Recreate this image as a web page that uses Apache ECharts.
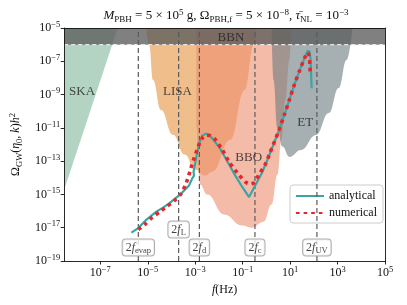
<!DOCTYPE html>
<html><head><meta charset="utf-8">
<script src="https://cdn.jsdelivr.net/npm/echarts@6/dist/echarts.min.js"></script>
<style>html,body{margin:0;padding:0;background:#fff}#c{width:407px;height:305px}</style>
</head><body><div id="c"></div>
<script>
// ---------- data ----------
const xTicks = [1e-7, 1e-5, 1e-3, 1e-1, 1e1, 1e3, 1e5];
const yTicks = [1e-19, 1e-17, 1e-15, 1e-13, 1e-11, 1e-9, 1e-7, 1e-5];
const xRange = [3e-9, 1e5];
const yRange = [1e-19, 1e-5];
const bbnLimit = 1e-6;

const skaCurve = [[3.0e-9, 1.9e-15], [5.4e-7, 1e-5]];
const lisaCurve = [[8.5e-6, 1e-5], [1.15e-5, 9.5e-7], [1.66e-5, 7.6e-9], [3.6e-5, 1.2e-10], [1.15e-4, 3.9e-12],
  [3.6e-4, 2.5e-13], [1.0e-3, 3.1e-14], [2.5e-3, 1.35e-14], [5.2e-3, 2.3e-14], [3.0e-2, 1.9e-12],
  [0.12, 1.9e-9], [0.3, 1.1e-6], [0.4, 1e-5]];
const bboCurve = [[1.12e-3, 1e-5], [1.15e-3, 1e-11], [1.3e-3, 5e-14], [1.6e-3, 4e-15], [3.2e-3, 9.8e-16],
  [1.66e-2, 6.2e-17], [9.3e-2, 1.35e-17], [0.24, 1.0e-17], [0.76, 2.3e-17], [1.66, 2.5e-16],
  [2.95, 1.55e-14], [4.3, 1.95e-12], [6.3, 4.8e-10], [9.3, 1.2e-7], [11.2, 1e-5]];
const etCurve = [[1.66, 1e-5], [2.0, 7.6e-9], [2.9, 1.0e-11], [4.7, 7.5e-13], [9.3, 1.8e-13], [29, 4.7e-13],
  [124, 3.7e-12], [427, 7.8e-11], [1120, 2.5e-9], [2400, 1.2e-7], [4300, 1e-5]];

const analytical = [[2.04e-6, 5.1e-18], [3.98e-6, 9.5e-18], [8.9e-6, 3.1e-17], [2.3e-5, 9.3e-17], [4.4e-5, 1.6e-16],
  [8.3e-5, 3.0e-16], [1.8e-4, 7.4e-16], [2.95e-4, 1.38e-15], [5.6e-4, 3.6e-15], [7.4e-4, 8.9e-15],
  [8.9e-4, 1.35e-14], [8.5e-4, 2.3e-14], [9.8e-4, 6.2e-14], [1.2e-3, 3.2e-13], [1.5e-3, 1.3e-12],
  [2.0e-3, 3.4e-12], [2.8e-3, 4.5e-12], [4.0e-3, 3.6e-12], [6.3e-3, 1.7e-12], [1.12e-2, 5.6e-13],
  [1.86e-2, 1.6e-13], [4.9e-2, 1.35e-14], [9.3e-2, 3.0e-15], [0.135, 1.38e-15], [0.186, 6.9e-16],
  [0.32, 3.0e-15], [0.63, 1.8e-14], [1.2, 1.6e-13], [3.2, 5.8e-12], [5.9, 6.9e-11], [9.3, 4.8e-10],
  [15.5, 4.4e-9], [24.5, 2.5e-8], [40, 1.5e-7], [54, 4.2e-7], [66, 3.9e-7], [72, 1.6e-7], [76, 2.0e-8], [81, 2.4e-9]];
const numerical = [[3.98e-6, 7.8e-18], [8.3e-6, 1.78e-17], [1.58e-5, 4.3e-17], [3.16e-5, 8.9e-17], [6.6e-5, 1.95e-16],
  [1.35e-4, 4.3e-16], [2.5e-4, 1.07e-15], [3.8e-4, 3.4e-15], [5.1e-4, 1.12e-14], [6.6e-4, 3.9e-14],
  [8.9e-4, 1.5e-13], [1.17e-3, 4.4e-13], [1.58e-3, 1.38e-12], [2.1e-3, 2.75e-12], [2.95e-3, 3.6e-12],
  [4.4e-3, 3.4e-12], [6.8e-3, 2.1e-12], [1.38e-2, 4.9e-13], [2.75e-2, 8.3e-14], [6.8e-2, 1.55e-14],
  [0.135, 5.4e-15], [0.2, 4.2e-15], [0.29, 4.9e-15], [0.54, 1.95e-14], [0.93, 7.1e-14], [1.41, 3.1e-13],
  [3.2, 5.8e-12], [5.9, 6.9e-11], [9.3, 4.8e-10], [15.5, 4.4e-9], [24.5, 2.5e-8], [40, 1.5e-7],
  [55, 3.4e-7], [63, 2.1e-7], [68, 6.9e-8], [71, 1.74e-8]];

const markFreqs = [4.0e-6, 2.0e-4, 1.5e-3, 0.33, 135];
const markNames = ['evap', 'L', 'd', 'c', 'UV'];
const markBoxY = [6.5e-19, 7.8e-18, 6.5e-19, 6.5e-19, 6.5e-19];

const regionNames = ['SKA', 'LISA', 'BBO', 'ET', 'BBN'];
const regionLabelPos = [[1.7e-8, 1.45e-9], [1.8e-4, 1.45e-9], [0.18, 1.6e-13], [43, 2.0e-11], [3.2e-2, 2.7e-6]];

// ---------- chart ----------
const F = 'Liberation Serif';
const rich = {
  n: { fontFamily: F, fontSize: 12, color: '#111', fontWeight: 'normal' },
  i: { fontFamily: F, fontSize: 12, fontStyle: 'italic', color: '#111', fontWeight: 'normal' },
  sub: { fontFamily: F, fontSize: 8.5, color: '#111', fontWeight: 'normal', padding: [7, 0, 0, 0] },
  sup: { fontFamily: F, fontSize: 8.5, color: '#111', fontWeight: 'normal', padding: [0, 0, 7, 0] }
};
const titleRich = {
  n: Object.assign({}, rich.n, { fontSize: 13 }),
  i: Object.assign({}, rich.i, { fontSize: 13 }),
  sub: Object.assign({}, rich.sub, { fontSize: 9 }),
  sup: Object.assign({}, rich.sup, { fontSize: 9 })
};
function powLabel(v) {
  const e = Math.round(Math.log10(v));
  return '{n|10}{sup|' + (e < 0 ? '\u2212' + (-e) : e) + '}';
}
function region(name, data, color) {
  return {
    type: 'line', name: name, data: data, symbol: 'none', smooth: 0.45, smoothMonotone: 'x',
    lineStyle: { opacity: 0, width: 0 }, areaStyle: { origin: 'end', color: color, opacity: 1 },
    silent: true, z: 1
  };
}
const verticals = markFreqs.map((f, i) => ({
  type: 'line', name: 'v' + i, data: [[f, yRange[0]], [f, yRange[1]]], symbol: 'none', silent: true, z: 4,
  lineStyle: { color: '#5a5a5a', type: [5, 3], width: 1.2 }
}));
const chart = echarts.init(document.getElementById('c'), null, { renderer: 'canvas' });
const axisCommon = { lineStyle: { color: '#111', width: 0.9 } };
chart.setOption({
  animation: false,
  backgroundColor: '#fff',
  title: {
    text: '{i|M}{sub|PBH}{n| = 5 \u00d7 10}{sup|5}{n| g, \u03a9}{sub|PBH,f}{n| = 5 \u00d7 10}{sup|\u22128}{n|, }{i|\u03c4\u0304}{sub|NL}{n| = 10}{sup|\u22123}',
    left: 221, top: 3, textAlign: 'center',
    textStyle: { fontWeight: 'normal', rich: titleRich }
  },
  grid: { left: 60, top: 28, width: 325, height: 233 },
  legend: {
    data: ['analytical', 'numerical'], orient: 'vertical', right: 24, top: 185,
    backgroundColor: 'rgba(255,255,255,0.85)', borderColor: '#ccc', borderWidth: 1, borderRadius: 3,
    padding: [5, 6, 4, 5], itemGap: 5, itemWidth: 28, itemHeight: 12,
    itemStyle: { opacity: 0 },
    textStyle: { fontFamily: F, fontSize: 12, color: '#111' }
  },
  xAxis: [{
    type: 'log', logBase: 10, min: xRange[0], max: xRange[1], z: 10,
    axisLine: Object.assign({ show: true }, axisCommon),
    axisTick: { show: true, length: 3.5, customValues: xTicks, lineStyle: { color: '#111', width: 0.9 } },
    axisLabel: { customValues: xTicks, formatter: powLabel, rich: rich, margin: 4 },
    splitLine: { show: false }, minorTick: { show: false },
    name: '{i|f}{n|(Hz)}', nameLocation: 'middle', nameGap: 12, nameTextStyle: { rich: rich }
  }, {
    type: 'log', logBase: 10, min: xRange[0], max: xRange[1], position: 'top', z: 10,
    axisLine: Object.assign({ show: true }, axisCommon), axisTick: { show: false }, axisLabel: { show: false },
    splitLine: { show: false }
  }],
  yAxis: [{
    type: 'log', logBase: 10, min: yRange[0], max: yRange[1], z: 10,
    axisLine: Object.assign({ show: true }, axisCommon),
    axisTick: { show: true, length: 3.5, customValues: yTicks, lineStyle: { color: '#111', width: 0.9 } },
    axisLabel: { customValues: yTicks, formatter: powLabel, rich: rich, margin: 4 },
    splitLine: { show: false }, minorTick: { show: false },
    name: '{n|\u03a9}{sub|GW}{n|(}{i|\u03b7}{sub|0}{n|, }{i|k}{n|)}{i|h}{sup|2}', nameLocation: 'middle', nameGap: 35, nameRotate: 90,
    nameTextStyle: { rich: rich }
  }, {
    type: 'log', logBase: 10, min: yRange[0], max: yRange[1], position: 'right', z: 10,
    axisLine: Object.assign({ show: true }, axisCommon), axisTick: { show: false }, axisLabel: { show: false },
    splitLine: { show: false }
  }],
  series: [
    region('SKA', skaCurve, 'rgba(128,183,153,0.6)'),
    region('LISA', lisaCurve, 'rgba(228,147,62,0.6)'),
    region('BBO', bboCurve, 'rgba(237,142,112,0.6)'),
    region('ET', etCurve, 'rgba(107,123,127,0.6)'),
    {
      type: 'line', name: 'BBN', data: [[xRange[0], bbnLimit], [xRange[1], bbnLimit]], symbol: 'none', silent: true,
      lineStyle: { color: '#e6e6e6', width: 1.2, type: [4, 3] },
      areaStyle: { origin: 'end', color: 'rgba(92,92,92,0.78)', opacity: 1 }, z: 3
    }
  ].concat(verticals).concat([
    {
      type: 'line', name: 'analytical', data: analytical, symbol: 'none', z: 5,
      lineStyle: { color: '#3aa5a6', width: 2.2 }, itemStyle: { color: '#3aa5a6' }
    },
    {
      type: 'line', name: 'numerical', data: numerical, symbol: 'none', z: 6, smooth: 0.2,
      lineStyle: { color: '#e5262b', width: 3.6, type: [3.6, 4], cap: 'butt' }, itemStyle: { color: '#e5262b' }
    },
    {
      type: 'scatter', name: 'boxes', symbolSize: 0, silent: true, z: 8,
      data: markFreqs.map((f, i) => ({ value: [f, markBoxY[i]], name: markNames[i] })),
      label: {
        show: true, position: 'inside', formatter: p => '{n|2}{i|f}{sub|' + p.name + '}', rich: rich,
        backgroundColor: '#fff', borderColor: '#9a9a9a', borderWidth: 1, borderRadius: 3, padding: [0, 3, 0, 3]
      }
    },
    {
      type: 'scatter', name: 'regionLabels', symbolSize: 0, silent: true, z: 7,
      data: regionNames.map((n, i) => ({ value: regionLabelPos[i], name: n })),
      label: { show: true, position: 'inside', formatter: p => p.name, fontFamily: F, fontSize: 13, color: '#222' }
    }
  ])
});
</script></body></html>
